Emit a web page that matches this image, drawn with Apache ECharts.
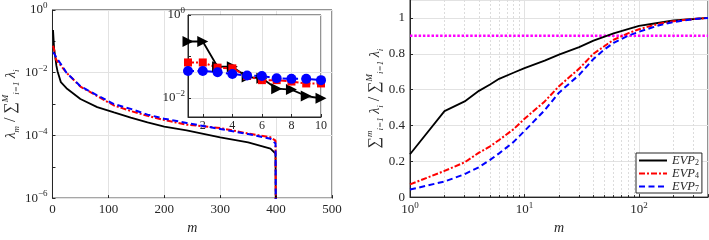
<!DOCTYPE html>
<html lang="en">
<head>
<meta charset="UTF-8">
<title>EVP eigenvalues</title>
<script src="https://cdn.jsdelivr.net/npm/echarts@6/dist/echarts.min.js"></script>
<style>
  html, body { margin: 0; padding: 0; background: #fff; }
  #wrap { width: 709px; height: 240px; }
</style>
</head>
<body>
<div id="wrap"></div>
<script>
// left panel: lambda_m / sum(lambda_i)
const modes = [1, 2, 3, 4, 5, 6, 7, 8, 9, 10, 15, 25, 50, 80, 110, 140, 170, 200, 240, 300, 350, 390, 399, 400]
const evp2 = [0.23, 0.23, 0.057, 0.057, 0.032, 0.030, 0.0168, 0.016, 0.0112, 0.0099, 0.005, 0.0032, 0.00145, 0.0008, 0.00054, 0.00037, 0.00026, 0.00019, 0.000145, 0.000087, 0.00006, 0.000038, 0.000026, 1e-9]
const evp4 = [0.072, 0.072, 0.054, 0.052, 0.034, 0.027, 0.027, 0.025, 0.0225, 0.0225, 0.017, 0.010, 0.0036, 0.0018, 0.0009, 0.0006, 0.00042, 0.00031, 0.00022, 0.000172, 0.000115, 0.000087, 0.000068, 1e-9]
const evp7 = [0.045, 0.045, 0.042, 0.038, 0.035, 0.034, 0.030, 0.029, 0.029, 0.027, 0.019, 0.010, 0.0037, 0.0019, 0.001, 0.0007, 0.00046, 0.00034, 0.00025, 0.00016, 0.00011, 0.000078, 0.000055, 1e-9]

// inset shows the first 10 modes
const insetCount = 10

// right panel: cumulative fraction
const cumModes = [1, 2, 3, 4, 5, 6, 8, 10, 15, 20, 30, 40, 50, 60, 80, 100, 150, 200, 300, 400]
const cum2 = [0.239, 0.48, 0.534, 0.593, 0.628, 0.66, 0.694, 0.72, 0.762, 0.795, 0.837, 0.873, 0.896, 0.914, 0.937, 0.955, 0.973, 0.986, 0.994, 1.0]
const cum4 = [0.071, 0.146, 0.194, 0.248, 0.283, 0.319, 0.378, 0.437, 0.534, 0.619, 0.717, 0.80, 0.843, 0.878, 0.914, 0.937, 0.968, 0.982, 0.994, 1.0]
const cum7 = [0.042, 0.087, 0.128, 0.167, 0.208, 0.244, 0.307, 0.369, 0.485, 0.583, 0.682, 0.771, 0.825, 0.861, 0.90, 0.923, 0.959, 0.977, 0.993, 1.0]
const threshold = 0.9

const names = ['EVP_2', 'EVP_4', 'EVP_7']

const serif = 'Liberation Serif'
const ink = '#262626'
const gridGray = '#e2e2e2'

const zip = (xs, ys) => xs.map((x, i) => [x, ys[i]])

function powLabel(v, evenOnly) {
  const e = Math.round(Math.log10(v))
  if (evenOnly && e % 2 !== 0) return ''
  return '{b|10}{s|' + (e < 0 ? '\u2212' + (-e) : e) + '}'
}
const powRich = {
  b: { fontFamily: serif, fontSize: 13, color: ink, lineHeight: 17 },
  s: { fontFamily: serif, fontSize: 9, color: ink, verticalAlign: 'top', lineHeight: 17 }
}
const nameRich = {
  t: { fontFamily: serif, fontSize: 14, fontStyle: 'italic', color: ink, lineHeight: 20 },
  n: { fontFamily: serif, fontSize: 16, color: ink, lineHeight: 20 },
  u: { fontFamily: serif, fontSize: 9, fontStyle: 'italic', color: ink, verticalAlign: 'top', lineHeight: 20 },
  d: { fontFamily: serif, fontSize: 9, fontStyle: 'italic', color: ink, verticalAlign: 'bottom', lineHeight: 20 }
}

const styles = [
  { color: '#000000', width: 1.8, type: 'solid' },
  { color: '#ff0000', width: 2, type: [6, 2, 2, 2] },
  { color: '#0000ff', width: 2, type: [6, 3.5] }
]
const markers = [
  { symbol: 'triangle', symbolRotate: -90, symbolSize: 11 },
  { symbol: 'rect', symbolSize: 8 },
  { symbol: 'circle', symbolSize: 10 }
]

const chart = echarts.init(document.querySelector('#wrap'), null, { renderer: 'canvas' })

const mainSeries = [evp2, evp4, evp7].map((vals, i) => ({
  name: names[i],
  type: 'line',
  xAxisIndex: 0,
  yAxisIndex: 0,
  data: zip(modes, vals),
  symbol: 'none',
  z: 3,
  lineStyle: styles[i],
  itemStyle: { color: styles[i].color }
}))

const cumSeries = [cum2, cum4, cum7].map((vals, i) => ({
  name: names[i],
  type: 'line',
  xAxisIndex: 1,
  yAxisIndex: 1,
  data: zip(cumModes, vals),
  symbol: 'none',
  z: 3,
  lineStyle: styles[i],
  itemStyle: { color: styles[i].color }
}))

const insetSeries = [evp2, evp4, evp7].map((vals, i) => ({
  name: names[i] + '_inset',
  type: 'line',
  xAxisIndex: 2,
  yAxisIndex: 2,
  data: zip(modes.slice(0, insetCount), vals.slice(0, insetCount)),
  symbol: markers[i].symbol,
  symbolRotate: markers[i].symbolRotate || 0,
  symbolSize: markers[i].symbolSize,
  showAllSymbol: true,
  z: 6,
  lineStyle: styles[i],
  itemStyle: { color: styles[i].color }
}))

const ops = {
  animation: false,
  grid: [
    { left: 50, top: 10, width: 282, height: 197, show: true, borderColor: ink, borderWidth: 1, z: 0 },
    { left: 410, top: 0, width: 298, height: 205.5, show: true, borderColor: ink, borderWidth: 1, z: 0 },
    { left: 188, top: 15, width: 133, height: 102, show: true, backgroundColor: '#ffffff', borderColor: ink, borderWidth: 1, z: 1 }
  ],
  legend: {
    data: names,
    orient: 'vertical',
    left: 636,
    top: 153,
    itemWidth: 28,
    itemHeight: 9,
    itemGap: 0,
    padding: [1, 3, 0, 2],
    backgroundColor: '#ffffff',
    borderColor: ink,
    borderWidth: 1,
    borderRadius: 0,
    itemStyle: { opacity: 0 },
    formatter: name => '{i|EVP}{d|' + name.split('_')[1] + '}',
    textStyle: {
      rich: {
        i: { fontFamily: serif, fontStyle: 'italic', fontSize: 12.5, color: ink, lineHeight: 12 },
        d: { fontFamily: serif, fontSize: 8, color: ink, verticalAlign: 'bottom', lineHeight: 12 }
      }
    }
  },
  xAxis: [
    {
      type: 'value', gridIndex: 0, min: 0, max: 500, interval: 100, z: 0,
      name: 'm', nameLocation: 'middle', nameGap: 21,
      nameTextStyle: { fontFamily: serif, fontStyle: 'italic', fontSize: 14, color: ink },
      axisLine: { lineStyle: { color: ink } },
      axisTick: { inside: true, length: 3, lineStyle: { color: ink } },
      axisLabel: { fontFamily: serif, fontSize: 13, color: ink, margin: 5 },
      splitLine: { show: true, lineStyle: { color: gridGray } }
    },
    {
      type: 'log', logBase: 10, gridIndex: 1, min: 1, max: 400, z: 0,
      name: 'm', nameLocation: 'middle', nameGap: 21,
      nameTextStyle: { fontFamily: serif, fontStyle: 'italic', fontSize: 14, color: ink },
      axisLine: { lineStyle: { color: ink } },
      axisTick: { inside: true, length: 3, lineStyle: { color: ink } },
      axisLabel: { formatter: v => powLabel(v, false), rich: powRich, margin: 4, showMaxLabel: false },
      splitLine: { show: true, lineStyle: { color: gridGray } },
      minorTick: { show: true, splitNumber: 9, length: 2, lineStyle: { color: ink } },
      minorSplitLine: { show: true, lineStyle: { color: '#dcdcdc', type: [2, 2] } }
    },
    {
      type: 'value', gridIndex: 2, min: 1, max: 10, splitNumber: 5, z: 3,
      axisLine: { lineStyle: { color: ink } },
      axisTick: { inside: true, length: 3, lineStyle: { color: ink } },
      axisLabel: { fontFamily: serif, fontSize: 12, color: ink, margin: 3, showMinLabel: false },
      splitLine: { show: true, lineStyle: { color: gridGray } }
    }
  ],
  yAxis: [
    {
      type: 'log', logBase: 10, gridIndex: 0, min: 1e-6, max: 1, z: 2,
      name: '{t|\u03bb}{d|m}{n| / \u2211}{u|M}{d|i=1}{t| \u03bb}{d|i}',
      nameLocation: 'middle', nameGap: 30, nameRotate: 90,
      nameTextStyle: { rich: nameRich },
      axisLine: { lineStyle: { color: ink } },
      axisTick: { inside: true, length: 3, lineStyle: { color: ink } },
      axisLabel: { formatter: v => powLabel(v, true), rich: powRich, margin: 5 },
      splitLine: { show: true, lineStyle: { color: [gridGray, 'rgba(0,0,0,0)'] } }
    },
    {
      type: 'value', gridIndex: 1, min: 0, max: 1.1, interval: 0.2, z: 0,
      name: '{n|\u2211}{u|m}{d|i=1}{t| \u03bb}{d|i}{n| / \u2211}{u|M}{d|i=1}{t| \u03bb}{d|i}',
      nameLocation: 'middle', nameGap: 21, nameRotate: 90,
      nameTextStyle: { rich: nameRich },
      axisLine: { lineStyle: { color: ink } },
      axisTick: { inside: true, length: 3, lineStyle: { color: ink } },
      axisLabel: { fontFamily: serif, fontSize: 13, color: ink, margin: 5, showMaxLabel: false },
      splitLine: { show: true, lineStyle: { color: gridGray } }
    },
    {
      type: 'log', logBase: 10, gridIndex: 2, min: 0.0035, max: 1, z: 3,
      axisLine: { lineStyle: { color: ink } },
      axisTick: { inside: true, length: 3, lineStyle: { color: ink } },
      axisLabel: { formatter: v => powLabel(v, true), rich: powRich, margin: 3, showMinLabel: false },
      splitLine: { show: true, lineStyle: { color: ['rgba(0,0,0,0)', gridGray, 'rgba(0,0,0,0)', gridGray] } }
    }
  ],
  series: [
    ...mainSeries,
    ...cumSeries,
    {
      name: 'threshold',
      type: 'line',
      xAxisIndex: 1,
      yAxisIndex: 1,
      data: [[cumModes[0], threshold], [cumModes[cumModes.length - 1], threshold]],
      symbol: 'none',
      z: 2,
      lineStyle: { color: '#ff00ff', width: 2.5, type: [2.5, 1.8] }
    },
    ...insetSeries
  ]
}

chart.setOption(ops)
</script>
</body>
</html>
